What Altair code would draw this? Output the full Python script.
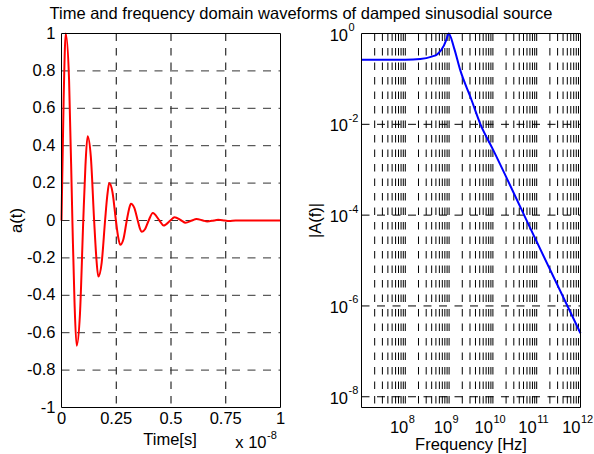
import altair as alt
import pandas as pd

# ---------------- values ----------------
# time axis in units of 1e-8 s (the axis carries the "x 10^-8" multiplier)
time_1e8s = [0, 0.0098, 0.0195, 0.0346, 0.0497, 0.0595, 0.069, 0.0843, 0.0994, 0.1092,
             0.119, 0.134, 0.149, 0.1588, 0.168, 0.1835, 0.199, 0.2088, 0.218, 0.233,
             0.2485, 0.2583, 0.268, 0.2826, 0.298, 0.3078, 0.317, 0.3325, 0.348, 0.357,
             0.367, 0.382, 0.398, 0.417, 0.447, 0.466, 0.497, 0.516, 0.547, 0.566,
             0.596, 0.616, 0.646, 0.665, 0.696, 0.715, 0.745, 0.765, 0.795, 1.0]
amplitude = [0, 0.65, 1.0, 0.75, 0, -0.44, -0.67, -0.50, 0, 0.29,
             0.45, 0.34, 0, -0.195, -0.30, -0.225, 0, 0.13, 0.20, 0.15,
             0, -0.085, -0.13, -0.10, 0, 0.058, 0.09, 0.067, 0, -0.039,
             -0.06, -0.045, 0, 0.04, 0, -0.027, 0, 0.018, 0, -0.012,
             0, 0.008, 0, -0.005, 0, 0.0035, 0, -0.0023, 0, 0]

freq_hz = [1e7, 1e8, 2.2e8, 4e8, 5.4e8, 7.6e8, 8.7e8, 9.8e8, 1.29e9, 1.82e9,
           3.1e9, 5.2e9, 1e10, 1e11, 1e12]
spectrum_mag = [0.263, 0.265, 0.275, 0.31, 0.35, 0.54, 0.74, 1.0, 0.49, 0.15,
                0.039, 0.01, 0.0028, 2.6e-5, 2.5e-7]

# ticks and tick labels
time_ticks = [0, 0.25, 0.5, 0.75, 1]
time_tick_labels = ["0", "0.25", "0.5", "0.75", "1"]
time_grid = [0.25, 0.5, 0.75]
amp_ticks = [1, 0.8, 0.6, 0.4, 0.2, 0, -0.2, -0.4, -0.6, -0.8, -1]
amp_tick_labels = ["1", "0.8", "0.6", "0.4", "0.2", "0", "-0.2", "-0.4", "-0.6", "-0.8", "-1"]
amp_grid = [0.8, 0.6, 0.4, 0.2, 0, -0.2, -0.4, -0.6, -0.8]
freq_label_ticks_1 = [1e8, 1e9]
freq_label_exps_1 = ["8", "9"]
freq_label_ticks_2 = [1e10, 1e11, 1e12]
freq_label_exps_2 = ["10", "11", "12"]
mag_label_ticks = [1, 1e-2, 1e-4, 1e-6, 1e-8]
mag_label_exps = ["0", "-2", "-4", "-6", "-8"]
mag_grid = [1e-2, 1e-4, 1e-6, 1e-8]
minor_mantissas = [1, 2, 3, 4, 5, 6, 7, 8, 9]
minor_decades = [1e7, 1e8, 1e9, 1e10, 1e11]

TIME_DOMAIN = [0, 1]
AMP_DOMAIN = [-1, 1]
FREQ_DOMAIN = [1e7, 1e12]
MAG_DOMAIN = [5.8e-9, 1]

# ---------------- layout ----------------
W, H = 594, 454
LEFT_RANGE = [61.5, 280.5]
RIGHT_RANGE = [361.5, 580.5]
Y_RANGE = [407.5, 33.5]
FONT = "Liberation Sans"
FS = 16.5
FS_EXP = 11

xs_t = alt.Scale(domain=TIME_DOMAIN, range=LEFT_RANGE, nice=False, zero=False)
ys_a = alt.Scale(domain=AMP_DOMAIN, range=Y_RANGE, nice=False, zero=False)
xs_f = alt.Scale(type="log", domain=FREQ_DOMAIN, range=RIGHT_RANGE, nice=False)
ys_m = alt.Scale(type="log", domain=MAG_DOMAIN, range=Y_RANGE, nice=False)

# ---------------- left panel: a(t) ----------------
wave_df = pd.DataFrame({"t": time_1e8s, "a": amplitude})
vgrid_t_df = pd.DataFrame({"t": time_grid, "top": AMP_DOMAIN[1], "bot": AMP_DOMAIN[0]})
hgrid_a_df = pd.DataFrame({"a": amp_grid, "l": TIME_DOMAIN[0], "r": TIME_DOMAIN[1]})
frame_l_df = pd.DataFrame({"x0": [TIME_DOMAIN[0]], "x1": [TIME_DOMAIN[1]],
                           "y0": [AMP_DOMAIN[0]], "y1": [AMP_DOMAIN[1]]})
ylab_l_df = pd.DataFrame({"a": amp_ticks, "lab": amp_tick_labels, "x": TIME_DOMAIN[0]})
xlab_l_df = pd.DataFrame({"t": time_ticks, "lab": time_tick_labels, "y": AMP_DOMAIN[0]})

l_vgrid = alt.Chart(vgrid_t_df).mark_rule(color="black", strokeWidth=1, strokeDash=[7.5, 7]).encode(
    x=alt.X("t:Q", scale=xs_t, axis=None),
    y=alt.Y("top:Q", scale=ys_a, axis=None), y2="bot:Q")
l_hgrid = alt.Chart(hgrid_a_df).mark_rule(color="#333333", strokeWidth=1, strokeDash=[8, 7.5]).encode(
    x=alt.X("l:Q", scale=xs_t, axis=None), x2="r:Q",
    y=alt.Y("a:Q", scale=ys_a, axis=None))
l_line = alt.Chart(wave_df).mark_line(color="#ff0000", strokeWidth=2, interpolate="monotone", clip=True).encode(
    x=alt.X("t:Q", scale=xs_t, axis=None),
    y=alt.Y("a:Q", scale=ys_a, axis=None))
l_frame = alt.Chart(frame_l_df).mark_rect(fillOpacity=0, stroke="black", strokeWidth=1).encode(
    x=alt.X("x0:Q", scale=xs_t, axis=None), x2="x1:Q",
    y=alt.Y("y0:Q", scale=ys_a, axis=None), y2="y1:Q")
l_ylab = alt.Chart(ylab_l_df).mark_text(align="right", baseline="middle", dx=-6,
                                        font=FONT, fontSize=FS, color="black").encode(
    x=alt.X("x:Q", scale=xs_t, axis=None),
    y=alt.Y("a:Q", scale=ys_a, axis=None), text="lab:N")
l_xlab = alt.Chart(xlab_l_df).mark_text(align="center", baseline="alphabetic", dy=16.5,
                                        font=FONT, fontSize=FS, color="black").encode(
    x=alt.X("t:Q", scale=xs_t, axis=None),
    y=alt.Y("y:Q", scale=ys_a, axis=None), text="lab:N")

left = alt.layer(l_vgrid, l_hgrid, l_line, l_frame, l_ylab, l_xlab)

# ---------------- right panel: |A(f)| ----------------
spec_df = pd.DataFrame({"f": freq_hz, "m": spectrum_mag})
vgrid_f = [m * d for d in minor_decades for m in minor_mantissas if not (m == 1 and d == FREQ_DOMAIN[0])]
vgrid_f_df = pd.DataFrame({"f": vgrid_f, "top": MAG_DOMAIN[1], "bot": MAG_DOMAIN[0]})
hgrid_m_df = pd.DataFrame({"m": mag_grid, "l": FREQ_DOMAIN[0], "r": FREQ_DOMAIN[1]})
frame_r_df = pd.DataFrame({"x0": [FREQ_DOMAIN[0]], "x1": [FREQ_DOMAIN[1]],
                           "y0": [MAG_DOMAIN[0]], "y1": [MAG_DOMAIN[1]]})
ylab_r_df = pd.DataFrame({"m": mag_label_ticks, "exp": mag_label_exps, "x": FREQ_DOMAIN[0], "base": "10"})
xlab_r1_df = pd.DataFrame({"f": freq_label_ticks_1, "exp": freq_label_exps_1, "y": MAG_DOMAIN[0], "base": "10"})
xlab_r2_df = pd.DataFrame({"f": freq_label_ticks_2, "exp": freq_label_exps_2, "y": MAG_DOMAIN[0], "base": "10"})

r_vgrid = alt.Chart(vgrid_f_df).mark_rule(color="black", strokeWidth=1, strokeDash=[7.5, 7]).encode(
    x=alt.X("f:Q", scale=xs_f, axis=None),
    y=alt.Y("top:Q", scale=ys_m, axis=None), y2="bot:Q")
r_hgrid = alt.Chart(hgrid_m_df).mark_rule(color="black", strokeWidth=1, strokeDash=[8, 7.5]).encode(
    x=alt.X("l:Q", scale=xs_f, axis=None), x2="r:Q",
    y=alt.Y("m:Q", scale=ys_m, axis=None))
r_line = alt.Chart(spec_df).mark_line(color="#0000ff", strokeWidth=2, interpolate="monotone", clip=True).encode(
    x=alt.X("f:Q", scale=xs_f, axis=None),
    y=alt.Y("m:Q", scale=ys_m, axis=None))
r_frame = alt.Chart(frame_r_df).mark_rect(fillOpacity=0, stroke="black", strokeWidth=1).encode(
    x=alt.X("x0:Q", scale=xs_f, axis=None), x2="x1:Q",
    y=alt.Y("y0:Q", scale=ys_m, axis=None), y2="y1:Q")

r_ylab_base = alt.Chart(ylab_r_df).mark_text(align="right", baseline="alphabetic", dx=-13.5, dy=7,
                                             font=FONT, fontSize=FS, color="black").encode(
    x=alt.X("x:Q", scale=xs_f, axis=None),
    y=alt.Y("m:Q", scale=ys_m, axis=None), text="base:N")
r_ylab_exp = alt.Chart(ylab_r_df).mark_text(align="left", baseline="alphabetic", dx=-13, dy=-2.5,
                                            font=FONT, fontSize=FS_EXP, color="black").encode(
    x=alt.X("x:Q", scale=xs_f, axis=None),
    y=alt.Y("m:Q", scale=ys_m, axis=None), text="exp:N")


def xlabels(df, shift):
    base = alt.Chart(df).mark_text(align="right", baseline="alphabetic", dx=shift, dy=25.5,
                                   font=FONT, fontSize=FS, color="black").encode(
        x=alt.X("f:Q", scale=xs_f, axis=None),
        y=alt.Y("y:Q", scale=ys_m, axis=None), text="base:N")
    exp = alt.Chart(df).mark_text(align="left", baseline="alphabetic", dx=shift + 0.5, dy=15.5,
                                  font=FONT, fontSize=FS_EXP, color="black").encode(
        x=alt.X("f:Q", scale=xs_f, axis=None),
        y=alt.Y("y:Q", scale=ys_m, axis=None), text="exp:N")
    return [base, exp]


right = alt.layer(r_vgrid, r_hgrid, r_line, r_frame, r_ylab_base, r_ylab_exp,
                  *xlabels(xlab_r1_df, 3), *xlabels(xlab_r2_df, 0))

# ---------------- titles ----------------
one = pd.DataFrame({"k": [0]})


def label(text, x, y, size=FS, align="center", angle=0):
    return alt.Chart(one).mark_text(text=text, align=align, baseline="alphabetic", angle=angle,
                                    font=FONT, fontSize=size, color="black").encode(
        x=alt.value(x), y=alt.value(y))


titles = alt.layer(
    label("Time and frequency domain waveforms of damped sinusodial source", 301, 19),
    label("Time[s]", 170, 445),
    label("Frequency [Hz]", 471, 449.5),
    label("x 10", 266.5, 447.5, align="right"),
    label("-8", 267, 438.5, size=FS_EXP, align="left"),
    label("a(t)", 22, 220.5, angle=270),
    label("|A(f)|", 321, 220.5, angle=270),
)

chart = alt.layer(left, right, titles).resolve_scale(
    x="independent", y="independent"
).properties(
    width=W, height=H,
    autosize=alt.AutoSizeParams(type="none"),
    padding=0,
    background="white",
).configure_view(stroke=None)

chart.save("out.html", embed_options={"renderer": "svg", "actions": False})
